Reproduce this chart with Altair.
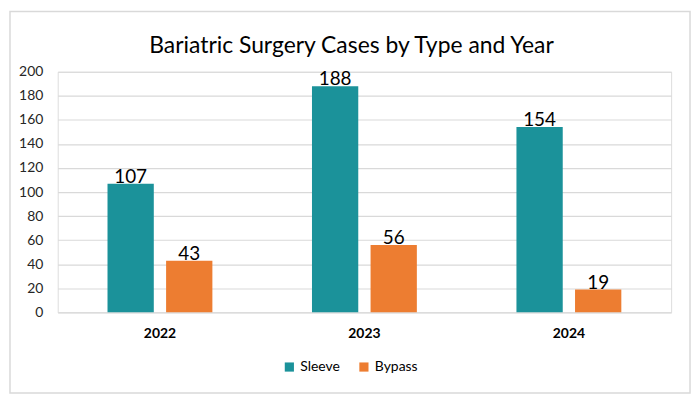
import altair as alt
import pandas as pd

years = ["2022", "2023", "2024"]
sleeve = [107, 188, 154]
bypass = [43, 56, 19]
types = ["Sleeve", "Bypass"]
colors = ["#1B929A", "#ED7D31"]
y_ticks = [0, 20, 40, 60, 80, 100, 120, 140, 160, 180, 200]
title_text = "Bariatric Surgery Cases by Type and Year"

rows = []
for i, yr in enumerate(years):
    rows.append({"Year": yr, "Type": "Sleeve", "Cases": sleeve[i]})
    rows.append({"Year": yr, "Type": "Bypass", "Cases": bypass[i]})
df = pd.DataFrame(rows)

W, H = 617, 242
FONT = "Lato"

x = alt.X("Year:N", sort=years,
          scale=alt.Scale(paddingInner=0, paddingOuter=0),
          axis=alt.Axis(title=None, labelAngle=0, domain=False, ticks=False,
                        labelFontWeight="bold", labelFontSize=14, labelPadding=14,
                        labelColor="#000000", labelFont=FONT))
xo = alt.XOffset("Type:N", sort=types,
                 scale=alt.Scale(paddingInner=0.21, paddingOuter=0.85))
y = alt.Y("Cases:Q", scale=alt.Scale(domain=[0, 200]),
          axis=alt.Axis(title=None, values=y_ticks, domain=False, ticks=False,
                        gridColor="#D9D9D9", gridWidth=1.2, labelPadding=15,
                        labelFontSize=14, labelColor="#262626", labelFont=FONT))
color = alt.Color("Type:N", sort=types,
                  scale=alt.Scale(domain=types, range=colors),
                  legend=alt.Legend(title=None, orient="none", direction="horizontal",
                                    legendX=226, legendY=290, symbolType="square",
                                    symbolSize=85, symbolStrokeWidth=0,
                                    labelFontSize=14, labelFont=FONT,
                                    labelColor="#000000", columnPadding=17,
                                    symbolOpacity=1))

bars = alt.Chart(df).mark_bar().encode(x=x, xOffset=xo, y=y, color=color)
labels = alt.Chart(df).mark_text(baseline="alphabetic", dy=-1, fontSize=19,
                                 font=FONT, color="#000000").encode(
    x=x, xOffset=xo, y=y, text="Cases:Q")
one = pd.DataFrame({"b": [0]})
border = alt.Chart(one).mark_rect(
    fillOpacity=0, stroke="#D9D9D9", strokeWidth=1.5).encode(
    x=alt.value(-48), x2=alt.value(W + 19), y=alt.value(-60.5), y2=alt.value(H + 81))
title = alt.Chart(one).mark_text(
    fontSize=23, font=FONT, color="#000000", baseline="alphabetic", align="center").encode(
    x=alt.value(W / 2 - 13), y=alt.value(-19), text=alt.value(title_text))

chart = alt.layer(border, bars, labels, title).properties(
    width=W, height=H, padding=1,
).configure_view(stroke=None).configure(background="white")

chart.save("out.html", embed_options={"renderer": "svg", "actions": False})
